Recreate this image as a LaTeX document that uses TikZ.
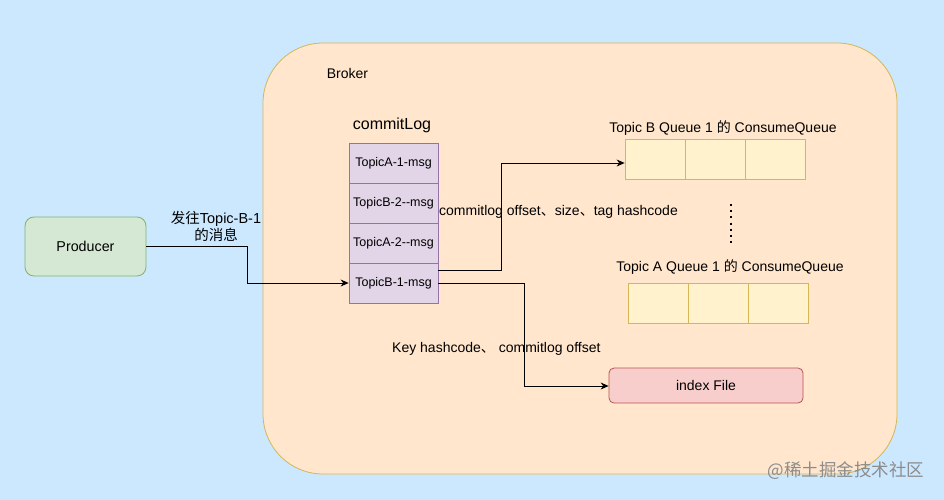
\documentclass[tikz,border=0pt]{standalone}
\usepackage{fontspec}
\setmainfont{Liberation Sans}
\newfontfamily\cjk{Noto Sans CJK SC}
\usetikzlibrary{arrows.meta}
\definecolor{bgblue}{HTML}{CCE8FF}
\definecolor{brokerfill}{HTML}{FFE6CC}
\definecolor{yellowstroke}{HTML}{D6B656}
\definecolor{greenfill}{HTML}{D5E8D4}
\definecolor{greenstroke}{HTML}{82B366}
\definecolor{purplefill}{HTML}{E1D5E7}
\definecolor{purplestroke}{HTML}{9673A6}
\definecolor{qfill}{HTML}{FFF2CC}
\definecolor{redfill}{HTML}{F8CECC}
\definecolor{redstroke}{HTML}{B85450}
\tikzset{
  cell/.style={draw=purplestroke, fill=purplefill, minimum width=89pt, minimum height=40pt, inner sep=0pt, font=\fontsize{12.5}{14}\selectfont, line width=0.8pt},
  qcell/.style={draw=yellowstroke, fill=qfill, minimum width=60pt, minimum height=40pt, inner sep=0pt, line width=0.8pt},
  lbl/.style={font=\fontsize{14}{17}\selectfont, inner sep=0pt, align=center},
  conn/.style={draw=black, line width=0.8pt, -{Stealth[length=8pt,width=7pt]}},
}
\begin{document}
\begin{tikzpicture}[x=1pt,y=-1pt]
\useasboundingbox (0,0) rectangle (944,500);
\fill[bgblue] (0,0) rectangle (944,500);
% broker
\node[draw=yellowstroke, fill=brokerfill, rounded corners=60pt, line width=0.8pt, minimum width=634pt, minimum height=431pt, inner sep=0pt] (broker) at (580,258.5) {};
\node[lbl] (brokerlbl) at (347.5,73) {Broker};
% producer
\node[draw=greenstroke, fill=greenfill, rounded corners=9pt, line width=0.8pt, minimum width=121pt, minimum height=59pt, inner sep=0pt, font=\fontsize{14.3}{17}\selectfont] (producer) at (85.5,246.5) {Producer};
\node[lbl, font=\fontsize{14.5}{17}\selectfont] (sendlbl) at (216,226.5) {{\cjk 发往}Topic-B-1\\[-0.5pt]{\cjk 的消息}};
% commitlog
\node[font=\fontsize{16}{18}\selectfont, inner sep=0pt] (cltitle) at (392,125) {commitLog};
\node[cell] (c1) at (393.5,163) {TopicA-1-msg};
\node[cell] (c2) at (393.5,203) {TopicB-2{-}{-}msg};
\node[cell] (c3) at (393.5,243) {TopicA-2{-}{-}msg};
\node[cell] (c4) at (393.5,283) {TopicB-1-msg};
% topic B queue
\node[lbl] (qbtitle) at (723,128) {Topic B Queue 1 {\cjk 的} ConsumeQueue};
\node[qcell] (qb1) at (655,159) {};
\node[qcell] (qb2) at (715,159) {};
\node[qcell] (qb3) at (775,159) {};
% dots
\draw[line width=1.6pt, dash pattern=on 2pt off 4.2pt] (731,204) -- (731,246);
% topic A queue
\node[lbl] (qatitle) at (730,267.5) {Topic A Queue 1 {\cjk 的} ConsumeQueue};
\node[qcell] (qa1) at (658,303) {};
\node[qcell] (qa2) at (718,303) {};
\node[qcell] (qa3) at (778,303) {};
% index file
\node[draw=redstroke, fill=redfill, rounded corners=5pt, line width=0.8pt, minimum width=194pt, minimum height=35pt, inner sep=0pt, font=\fontsize{14}{17}\selectfont] (idx) at (706,385.5) {index File};
% labels
\node[lbl, anchor=west] (offlbl) at (439,212) {commitlog offset{\cjk 、}size{\cjk 、}tag hashcode};
\node[lbl, anchor=west] (keylbl) at (392,349) {Key hashcode{\cjk 、} commitlog offset};
% connectors
\coordinate (p1) at (247,246.5);
\coordinate (p2) at (247,283);
\draw[conn] (producer.east) -- (p1) -- (p2) -- (c4.west);
\coordinate (t1) at (501,270);
\coordinate (t2) at (501,163);
\draw[conn] (t1 -| c4.east) -- (t1) -- (t2) -- (qb1.west |- t2);
\coordinate (k1) at (524,283);
\coordinate (k2) at (524,386);
\draw[conn] (c4.east) -- (k1) -- (k2) -- (idx.west |- k2);
% watermark
\node[font=\fontsize{17.5}{19}\selectfont\cjk, text=black!45, inner sep=0pt] (wm) at (846,471) {@稀土掘金技术社区};
\end{tikzpicture}
\end{document}
